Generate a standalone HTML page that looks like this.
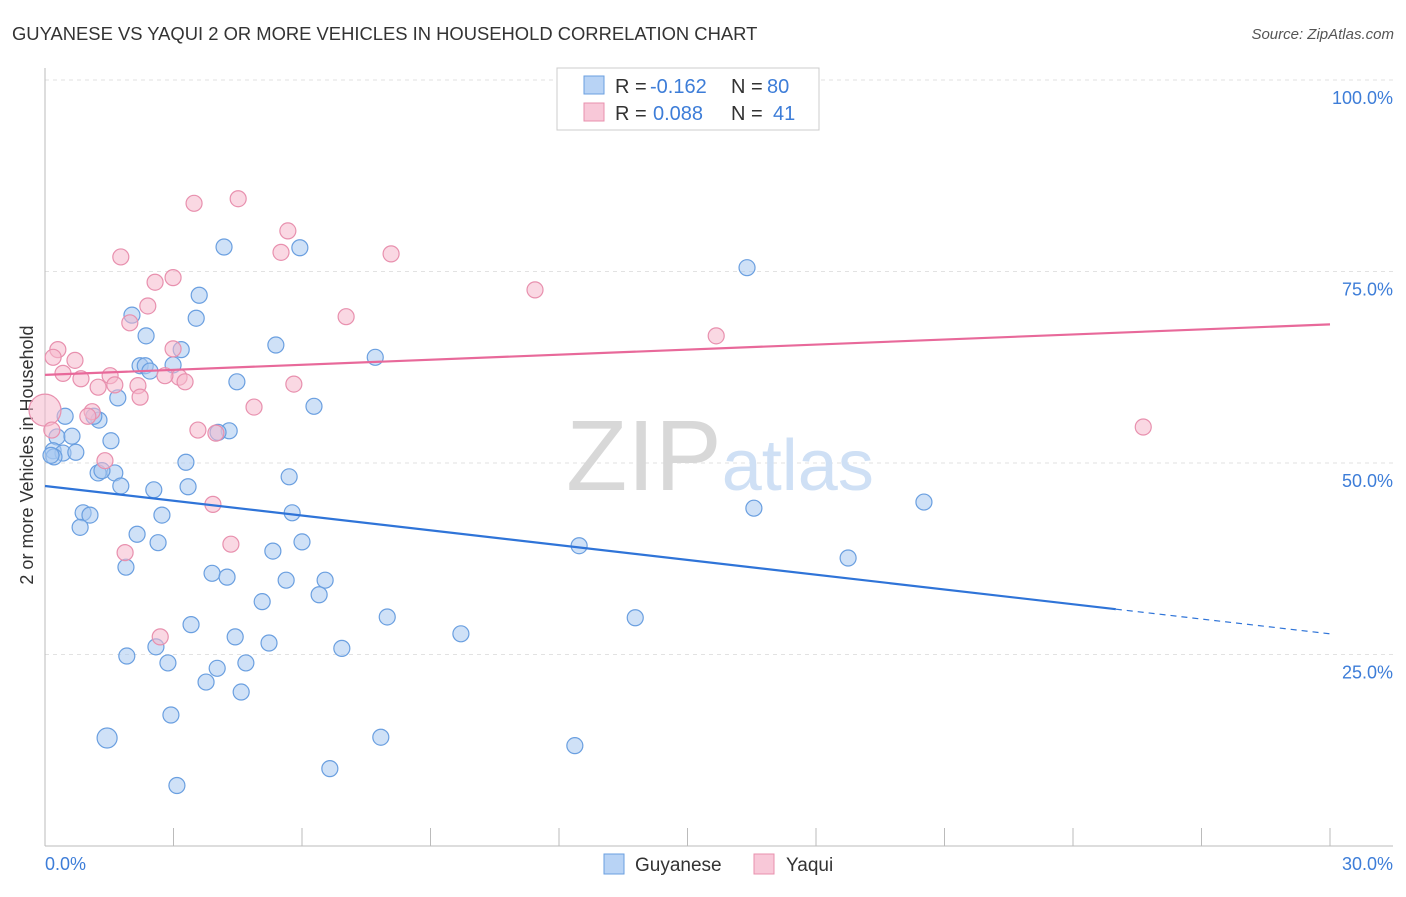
<!DOCTYPE html>
<html><head><meta charset="utf-8"><style>
body{margin:0;background:#fff;font-family:"Liberation Sans",sans-serif;}
svg text{font-family:"Liberation Sans",sans-serif;}
</style></head><body>
<svg id="chart" width="1406" height="892" xmlns="http://www.w3.org/2000/svg">
<text x="12" y="40" font-size="18.4" fill="#333">GUYANESE VS YAQUI 2 OR MORE VEHICLES IN HOUSEHOLD CORRELATION CHART</text>
<text x="1394" y="39" font-size="15" fill="#555" text-anchor="end" font-style="italic">Source: ZipAtlas.com</text>
<text x="33" y="455" font-size="18" fill="#333" text-anchor="middle" transform="rotate(-90 33 455)">2 or more Vehicles in Household</text>
<g id="grid"></g>
<text x="720" y="490" font-size="100" fill="#ddd" text-anchor="middle" font-family="Liberation Serif"><tspan fill="#d8d8d8">ZIP</tspan><tspan fill="#cfe0f5" font-family="Liberation Sans" font-size="72">atlas</tspan></text>
<g id="marks"></g>
<g>
<rect x="557" y="68" width="262" height="62" fill="#fff" stroke="#ccc"/>
<rect x="584" y="76" width="20" height="18" fill="#b8d3f5" stroke="#6a9fe0"/>
<text x="615" y="93" font-size="20" fill="#333">R =</text>
<text x="650" y="93" font-size="20" fill="#3d7dd8">-0.162</text>
<text x="731" y="93" font-size="20" fill="#333">N =</text>
<text x="767" y="93" font-size="20" fill="#3d7dd8">80</text>
<rect x="584" y="103" width="20" height="18" fill="#f8c8d8" stroke="#e890ae"/>
<text x="615" y="120" font-size="20" fill="#333">R =</text>
<text x="653" y="120" font-size="20" fill="#3d7dd8">0.088</text>
<text x="731" y="120" font-size="20" fill="#333">N =</text>
<text x="773" y="120" font-size="20" fill="#3d7dd8">41</text>
</g>
<g>
<rect x="604" y="854" width="20" height="20" fill="#b8d3f5" stroke="#6a9fe0"/>
<text x="635" y="871" font-size="19" fill="#333">Guyanese</text>
<rect x="754" y="854" width="20" height="20" fill="#f8c8d8" stroke="#e890ae"/>
<text x="786" y="871" font-size="19" fill="#333">Yaqui</text>
</g>
</svg>
<script>
const blueX=[4.18,5.95,16.39,3.60,3.53,2.03,2.36,5.39,7.71,3.18,2.22,2.34,2.45,2.99,4.48,1.70,6.28,0.47,1.26,1.14,0.28,0.63,4.30,4.04,1.54,0.19,0.42,0.72,0.21,3.29,1.24,1.63,1.33,5.70,1.77,3.34,2.54,0.89,1.05,2.73,5.77,0.82,2.15,2.64,6.00,5.32,12.47,16.55,20.52,18.75,1.89,3.90,4.25,5.63,6.54,6.40,5.07,7.99,13.78,9.71,3.41,4.44,5.23,2.59,6.93,1.91,2.87,4.69,4.02,3.76,4.58,2.94,1.45,7.84,12.37,6.65,3.08,0.14];
const blueY=[78.2,78.1,75.5,71.9,68.9,69.3,66.6,65.4,63.8,64.8,62.7,62.7,62.0,62.8,60.6,58.5,57.4,56.1,55.6,56.1,53.4,53.5,54.2,54.0,52.9,51.6,51.3,51.4,50.8,50.1,48.7,48.7,49.0,48.2,47.0,46.9,46.5,43.5,43.2,43.2,43.5,41.6,40.7,39.6,39.7,38.5,39.2,44.1,44.9,37.6,36.4,35.6,35.1,34.7,34.7,32.8,31.9,29.9,29.8,27.7,28.9,27.3,26.5,26.0,25.8,24.8,23.9,23.9,23.2,21.4,20.1,17.1,14.1,14.2,13.1,10.1,7.9,51.0];
const pinkX=[4.51,3.48,5.67,5.51,8.08,1.77,2.99,2.57,2.40,11.44,7.03,1.98,15.67,2.99,0.30,0.19,0.70,0.42,0.84,1.52,3.13,3.27,2.80,2.17,1.24,1.63,5.81,2.22,0,1.10,1.00,4.88,3.57,3.99,25.64,1.40,3.92,4.34,1.87,2.69,0.16];
const pinkY=[84.5,83.9,80.3,77.5,77.3,76.9,74.2,73.6,70.5,72.6,69.1,68.3,66.6,64.9,64.8,63.8,63.4,61.7,61.0,61.4,61.2,60.6,61.4,60.1,59.9,60.2,60.3,58.6,56.9,56.7,56.1,57.3,54.3,53.9,54.7,50.3,44.6,39.4,38.3,27.3,54.3];
const blueTrend=[47.0,27.7];
const pinkTrend=[61.5,68.1];
const yTicks=[25,50,75,100];
const yTickLabels=["25.0%","50.0%","75.0%","100.0%"];
const xTickLabels=["0.0%","30.0%"];
const NS="http://www.w3.org/2000/svg";
const X=v=>45+v/30*1285;
const Y=v=>463-(v-50)*7.66;
function mk(tag,attrs,parent){const e=document.createElementNS(NS,tag);for(const k in attrs)e.setAttribute(k,attrs[k]);parent.appendChild(e);return e;}
const grid=document.getElementById('grid'),marks=document.getElementById('marks');
yTicks.forEach((t,i)=>{
 const l=mk('line',{x1:45,x2:1393,y1:Y(t),y2:Y(t),stroke:'#e2e2e2','stroke-dasharray':'4,4'},grid);
 
 
 const tx=mk('text',{x:1393,y:Y(t)+24,'font-size':18,fill:'#3d7dd8','text-anchor':'end'},grid);
 tx.textContent=yTickLabels[i];
 
 
});
const ax=mk('line',{x1:45,x2:1393,y1:846,y2:846,stroke:'#bbb'},grid);


const ay=mk('line',{x1:45,x2:45,y1:68,y2:846,stroke:'#bbb'},grid);


for(let i=0;i<=10;i++){const t=mk('line',{x1:X(i*3),x2:X(i*3),y1:828,y2:846,stroke:'#bbb'},grid);
 
 }
[[0,'start',45],[30,'end',1393]].forEach((p,i)=>{const t=mk('text',{x:p[2],y:870,'font-size':18,fill:'#3d7dd8','text-anchor':p[1]},grid);t.textContent=xTickLabels[i];
 
 });
function dot(x,y,r,fill,stroke,name){const c=mk('circle',{cx:X(x),cy:Y(y),r:r,fill:fill,'fill-opacity':0.55,stroke:stroke,'stroke-width':1.2},marks);
 
 }
blueX.forEach((x,i)=>dot(x,blueY[i],blueY[i]<15&&x<2?10:8,'#a8c8f0','#6a9fe0','guyanese-point'));
pinkX.forEach((x,i)=>dot(x,pinkY[i],x===0?16:8,'#f5b8cc','#e890ae','yaqui-point'));
const s=(blueTrend[1]-blueTrend[0])/30;
const b1=mk('line',{x1:X(0),y1:Y(blueTrend[0]),x2:X(25),y2:Y(blueTrend[0]+s*25),stroke:'#2f74d8','stroke-width':2.2},marks);


const b2=mk('line',{x1:X(25),y1:Y(blueTrend[0]+s*25),x2:X(30),y2:Y(blueTrend[1]),stroke:'#2f74d8','stroke-width':1.2,'stroke-dasharray':'6,5'},marks);


const p1=mk('line',{x1:X(0),y1:Y(pinkTrend[0]),x2:X(30),y2:Y(pinkTrend[1]),stroke:'#e8699a','stroke-width':2.2},marks);


</script>
</body></html>
